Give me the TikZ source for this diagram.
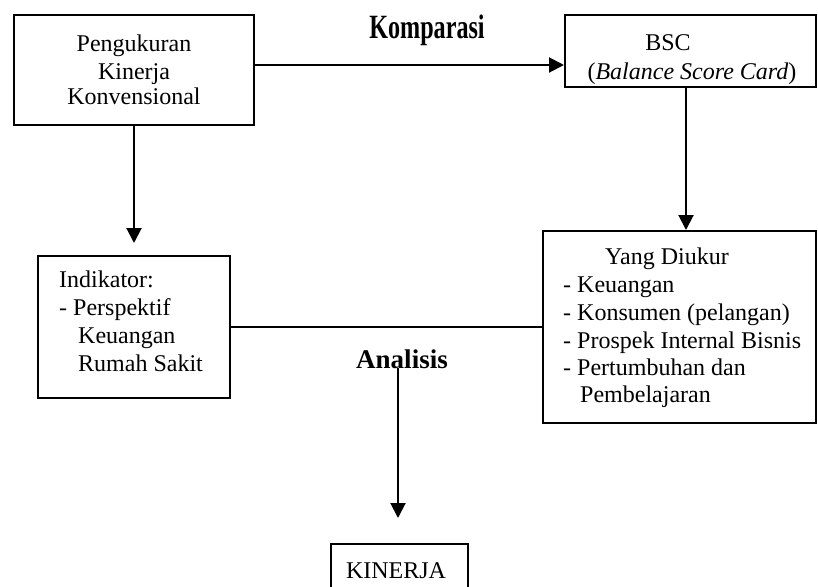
\documentclass[tikz,border=0pt]{standalone}
\usepackage{fontspec}
\setmainfont{Liberation Serif}
\usetikzlibrary{arrows.meta}
\begin{document}
\begin{tikzpicture}[x=1pt,y=-1pt,
  box/.style={draw,line width=2pt,inner sep=0pt},
  conn/.style={line width=2pt},
  arr/.style={conn,-{Triangle[length=15pt,width=15pt]}},
  txt/.style={font=\fontsize{24}{27.5}\selectfont,inner sep=0pt},
  lbl/.style={inner sep=0pt,fill=white}]
\useasboundingbox (0,0) rectangle (818,586);
\clip (0,0) rectangle (818,586);

% boxes
\node[box,minimum width=240pt,minimum height=110pt] (A) at (134,70) {};
\node[box,minimum width=251pt,minimum height=72pt] (BSC) at (690.5,51) {};
\node[box,minimum width=273pt,minimum height=192pt] (Yang) at (679.5,327) {};
\node[box,minimum width=192pt,minimum height=142pt] (Ind) at (134,327) {};
\node[box,minimum width=137pt,minimum height=56pt] (Kin) at (399.5,572) {};

% texts box A
\node[txt,anchor=base] (a1) at (134,52) {Pengukuran};
\node[txt,anchor=base] (a2) at (134,79) {Kinerja};
\node[txt,anchor=base] (a3) at (134,104) {Konvensional};

% BSC
\node[txt,anchor=base] (b1) at (668,50) {BSC};
\node[txt,anchor=base] (b2) at (692,79) {(\textit{Balance Score Card})};

% Yang Diukur
\node[txt,anchor=base west] (y1) at (605,264) {Yang Diukur};
\node[txt,anchor=base west] (y2) at (563,292) {- Keuangan};
\node[txt,anchor=base west] (y3) at (563,320) {- Konsumen (pelangan)};
\node[txt,anchor=base west] (y4) at (563,348) {- Prospek Internal Bisnis};
\node[txt,anchor=base west] (y5) at (563,375) {- Pertumbuhan dan};
\node[txt,anchor=base west] (y6) at (580,402) {Pembelajaran};

% Indikator
\node[txt,anchor=base west] (i1) at (59,287) {Indikator:};
\node[txt,anchor=base west] (i2) at (59,315) {- Perspektif};
\node[txt,anchor=base west] (i3) at (78,343) {Keuangan};
\node[txt,anchor=base west] (i4) at (78,371) {Rumah Sakit};

% KINERJA
\node[txt,anchor=base] (k1) at (396,578) {KINERJA};

% labels
\node[lbl,anchor=base] (komp) at (427,38) {\fontsize{34}{36}\selectfont\bfseries\scalebox{0.71}[1]{Komparasi}};
\node[lbl,anchor=base] (anal) at (402,368) {\fontsize{27}{30}\selectfont\bfseries Analisis};

% connectors
\coordinate (indtip) at (134,243);
\coordinate (kintip) at (398,518);
\draw[arr] (A.east |- 0,65) -- (BSC.west |- 0,65);
\draw[arr] (A.south) -- (indtip);
\draw[arr] (BSC.south -| 686,0) -- (Yang.north -| 686,0);
\draw[conn] (Ind.east) -- (Yang.west);
\draw[arr] (anal.south -| kintip) -- (kintip);
\end{tikzpicture}
\end{document}
